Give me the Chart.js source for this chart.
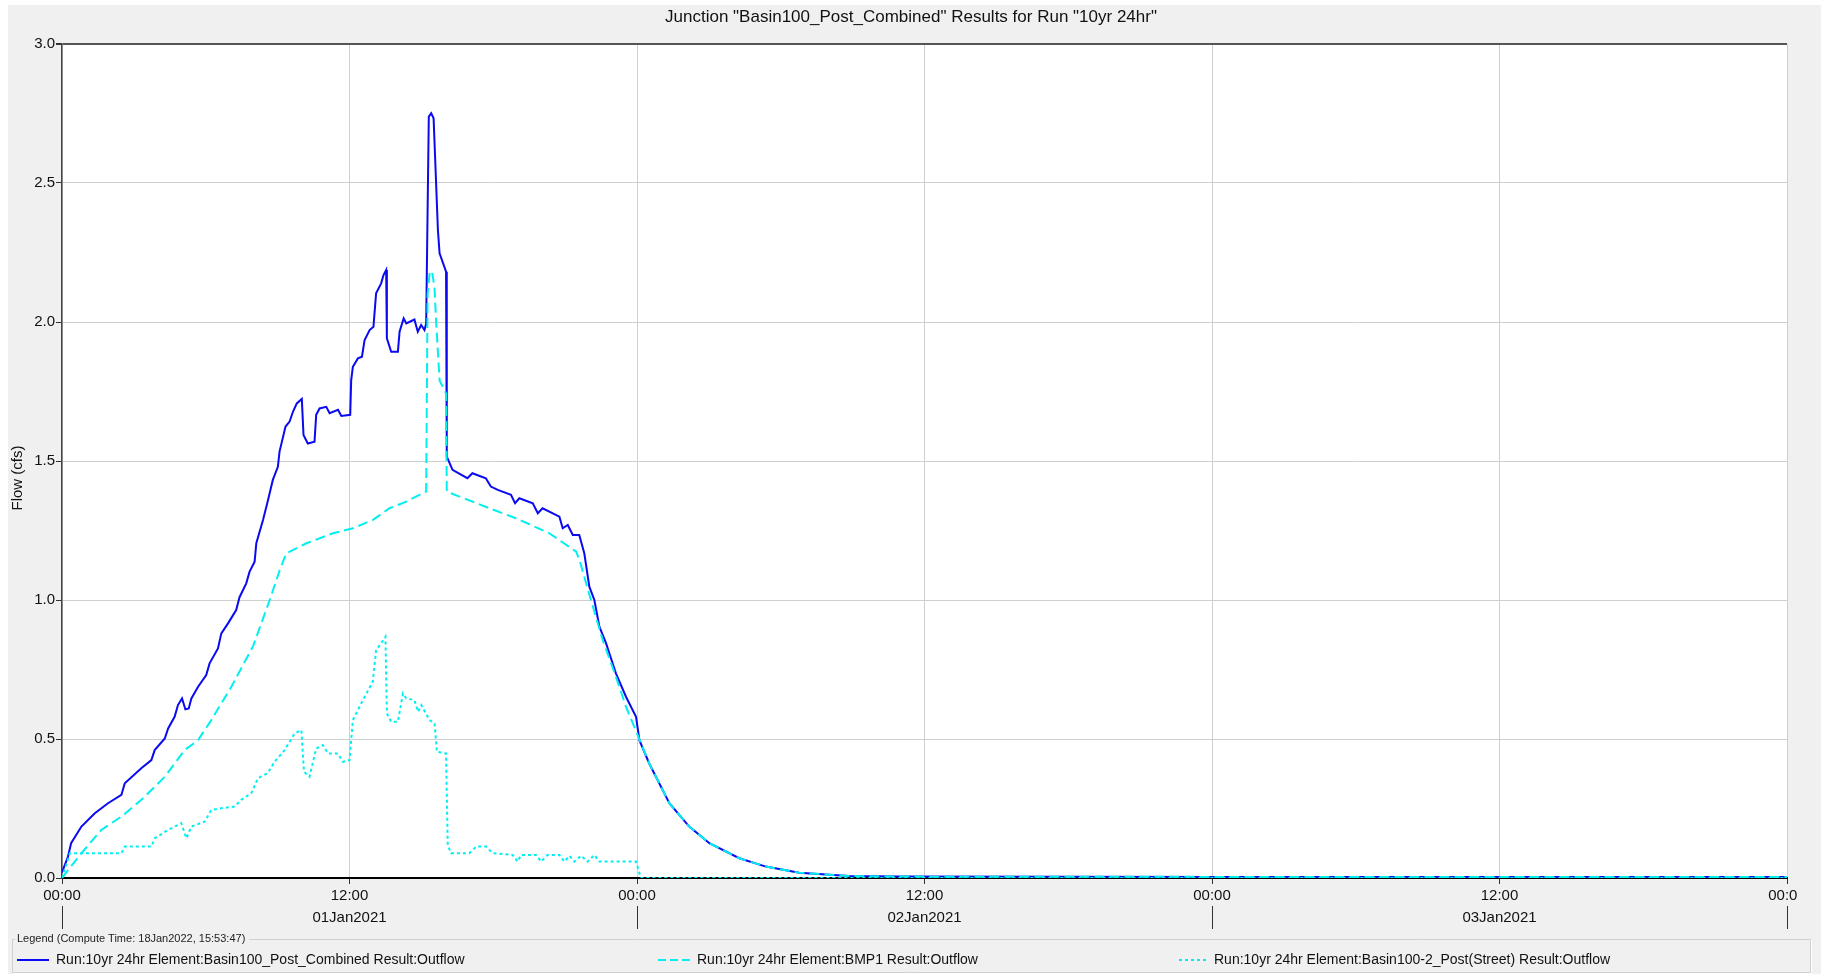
<!DOCTYPE html>
<html>
<head>
<meta charset="utf-8">
<title>Junction Basin100_Post_Combined</title>
<script src="https://cdn.jsdelivr.net/npm/chart.js@4/dist/chart.umd.min.js"></script>
<style>
  html, body { margin: 0; padding: 0; background: #fff; }
  canvas { display: block; }
</style>
</head>
<body>
<canvas id="grafico" width="1821" height="974"></canvas>
<script>
// ======= Dados (horas desde 01Jan2021 00:00, vazao em cfs) =======
const combHours = [0, 0.25, 0.38, 0.81, 1.37, 1.92, 2.48, 2.62, 3.31, 3.73, 3.87, 4.29, 4.43, 4.70, 4.84, 5.01, 5.15, 5.29, 5.40, 5.68,
  6.02, 6.16, 6.51, 6.65, 6.93, 7.27, 7.41, 7.69, 7.83, 8.04, 8.11, 8.39, 8.60, 8.80, 9.01, 9.08, 9.33, 9.50, 9.64, 9.80,
  10.01, 10.08, 10.26, 10.54, 10.61, 10.75, 11.03, 11.17, 11.52, 11.66, 12.03, 12.07, 12.14, 12.35, 12.52, 12.63, 12.84, 13.00, 13.11, 13.32,
  13.42, 13.53, 13.56, 13.74, 14.02, 14.09, 14.26, 14.37, 14.71, 14.85, 14.99, 15.13, 15.20, 15.31, 15.41, 15.51, 15.69, 15.76, 16.03, 16.06,
  16.30, 16.92, 17.13, 17.69, 17.90, 18.19, 18.74, 18.91, 19.09, 19.65, 19.86, 20.06, 20.76, 20.90, 21.11, 21.32, 21.59, 21.80, 22.01, 22.22,
  22.43, 22.71, 23.12, 23.54, 23.96, 24.10, 24.51, 25.35, 26.18, 27.02, 28.27, 29.38, 30.77, 32.85, 35, 48, 60, 72];
const combFlow = [0.02, 0.077, 0.125, 0.185, 0.233, 0.269, 0.299, 0.341, 0.395, 0.424, 0.460, 0.502, 0.538, 0.580, 0.622, 0.646, 0.607, 0.610, 0.646, 0.688,
  0.730, 0.772, 0.826, 0.880, 0.916, 0.964, 1.010, 1.060, 1.102, 1.138, 1.204, 1.288, 1.360, 1.432, 1.479, 1.534, 1.624, 1.642, 1.677, 1.707,
  1.723, 1.594, 1.563, 1.569, 1.666, 1.689, 1.695, 1.672, 1.684, 1.662, 1.666, 1.790, 1.839, 1.869, 1.875, 1.935, 1.971, 1.983, 2.103, 2.139,
  2.169, 2.187, 1.941, 1.893, 1.893, 1.965, 2.013, 1.995, 2.009, 1.965, 1.989, 1.971, 1.995, 2.739, 2.751, 2.733, 2.331, 2.247, 2.181, 1.516,
  1.468, 1.438, 1.456, 1.438, 1.408, 1.396, 1.378, 1.348, 1.366, 1.348, 1.312, 1.330, 1.300, 1.258, 1.270, 1.234, 1.234, 1.168, 1.048, 1.000,
  0.904, 0.844, 0.736, 0.652, 0.580, 0.496, 0.412, 0.269, 0.185, 0.125, 0.071, 0.041, 0.019, 0.007, 0.005, 0.004, 0.004, 0.004];

const bmpHours = [0, 0.81, 1.64, 2.48, 3.31, 4.29, 5.12, 5.68, 6.23, 7.07, 7.98, 8.67, 9.09, 9.36, 10.20, 11.31, 12.14, 12.98, 13.67, 14.37,
  15.20, 15.26, 15.35, 15.45, 15.55, 15.62, 15.76, 16.03, 16.06, 17.84, 18.95, 20.34, 21.46, 21.60, 22.01, 22.57, 23.12, 23.54, 24.00, 24.51,
  25.35, 26.18, 27.02, 28.27, 29.38, 30.77, 32.85, 35, 48, 60, 72];
const bmpFlow = [0, 0.089, 0.173, 0.221, 0.281, 0.364, 0.460, 0.496, 0.568, 0.688, 0.835, 1.000, 1.108, 1.168, 1.204, 1.240, 1.258, 1.288, 1.330, 1.354,
  1.390, 2.100, 2.181, 2.181, 2.120, 1.995, 1.790, 1.743, 1.390, 1.330, 1.294, 1.240, 1.174, 1.144, 1.020, 0.856, 0.724, 0.616, 0.520, 0.412,
  0.269, 0.185, 0.125, 0.071, 0.041, 0.019, 0.007, 0.005, 0.004, 0.004, 0.004];

const streetHours = [0, 0.33, 2.48, 2.62, 3.73, 3.87, 4.43, 4.98, 5.19, 5.40, 5.96, 6.23, 6.65, 7.21, 7.48, 7.90, 8.18, 8.59, 8.87, 9.29,
  9.71, 9.99, 10.10, 10.33, 10.61, 10.89, 11.10, 11.52, 11.72, 12.00, 12.14, 12.56, 12.97, 13.11, 13.32, 13.50, 13.56, 13.74, 14.02, 14.23,
  14.37, 14.71, 14.86, 15.00, 15.34, 15.55, 15.65, 16.03, 16.10, 16.24, 17.00, 17.29, 17.70, 17.98, 18.81, 19.02, 19.16, 19.79, 20.00, 20.27,
  20.76, 20.97, 21.18, 21.39, 21.67, 21.94, 22.22, 22.43, 23.96, 24.16, 72];
const streetFlow = [0, 0.089, 0.089, 0.113, 0.113, 0.143, 0.173, 0.197, 0.143, 0.185, 0.203, 0.245, 0.251, 0.257, 0.281, 0.305, 0.359, 0.377, 0.418, 0.460,
  0.520, 0.532, 0.382, 0.364, 0.466, 0.478, 0.448, 0.448, 0.418, 0.424, 0.568, 0.640, 0.706, 0.820, 0.844, 0.868, 0.592, 0.562, 0.562, 0.664,
  0.646, 0.640, 0.598, 0.622, 0.568, 0.556, 0.454, 0.448, 0.119, 0.089, 0.089, 0.113, 0.113, 0.089, 0.083, 0.059, 0.083, 0.083, 0.059, 0.083,
  0.083, 0.059, 0.080, 0.059, 0.080, 0.059, 0.083, 0.059, 0.059, 0, 0];

const xTickLabels = ['00:00', '12:00', '00:00', '12:00', '00:00', '12:00', '00:00'];
const dayLabels = ['01Jan2021', '02Jan2021', '03Jan2021'];
const seriesNames = [
  'Run:10yr 24hr Element:Basin100_Post_Combined Result:Outflow',
  'Run:10yr 24hr Element:BMP1 Result:Outflow',
  'Run:10yr 24hr Element:Basin100-2_Post(Street) Result:Outflow'
];
const titulo = 'Junction "Basin100_Post_Combined" Results for Run "10yr 24hr"';
const legendaTitulo = 'Legend (Compute Time: 18Jan2022, 15:53:47)';

const FONTE = '"Liberation Sans", Arial, sans-serif';
const AZUL = '#0a0af0';
const CIANO = '#00f0f0';

const pontos = (hs, vs) => hs.map((h, i) => ({ x: h, y: vs[i] }));

// ======= Fundo, titulo, rotulos e legenda =======
const moldura = {
  id: 'moldura',
  beforeDraw(chart) {
    const ctx = chart.ctx;
    const a = chart.chartArea;
    ctx.save();
    ctx.fillStyle = '#f0f0f0';
    ctx.fillRect(8, 5, chart.width - 8, chart.height - 5);
    ctx.fillStyle = '#fff';
    ctx.fillRect(a.left, a.top, a.right - a.left, a.bottom - a.top);
    ctx.restore();
    // corta o ultimo rotulo do eixo x, como no original
    ctx.save();
    ctx.beginPath();
    ctx.rect(0, 0, 1797, chart.height);
    ctx.clip();
  },
  beforeDatasetsDraw(chart) {
    chart.ctx.restore();
  },
  afterDraw(chart) {
    const ctx = chart.ctx;
    const xs = chart.scales.x;
    ctx.save();
    ctx.fillStyle = '#111';
    ctx.textBaseline = 'middle';

    // titulo
    ctx.font = '17px ' + FONTE;
    ctx.textAlign = 'center';
    ctx.fillText(titulo, 911, 17);

    // rotulo do eixo y
    ctx.save();
    ctx.translate(18, 478);
    ctx.rotate(-Math.PI / 2);
    ctx.font = '15px ' + FONTE;
    ctx.fillText('Flow (cfs)', 0, 0);
    ctx.restore();

    // datas e separadores
    ctx.font = '15px ' + FONTE;
    dayLabels.forEach((d, i) => {
      ctx.fillText(d, xs.getPixelForValue(i * 24 + 12), 918);
    });
    ctx.strokeStyle = '#333';
    ctx.lineWidth = 1;
    for (let i = 0; i <= dayLabels.length; i++) {
      const px = Math.round(xs.getPixelForValue(i * 24)) + 0.5;
      ctx.beginPath();
      ctx.moveTo(px, 906);
      ctx.lineTo(px, 929);
      ctx.stroke();
    }

    // caixa da legenda
    ctx.font = '11px ' + FONTE;
    ctx.textAlign = 'left';
    const tw = ctx.measureText(legendaTitulo).width;
    ctx.strokeStyle = '#d0d0d0';
    ctx.beginPath();
    ctx.moveTo(15, 939.5);
    ctx.lineTo(12.5, 939.5);
    ctx.lineTo(12.5, 972.5);
    ctx.lineTo(1810.5, 972.5);
    ctx.lineTo(1810.5, 939.5);
    ctx.lineTo(19 + tw + 2, 939.5);
    ctx.stroke();
    ctx.strokeStyle = '#fff';
    ctx.beginPath();
    ctx.moveTo(13.5, 973.5);
    ctx.lineTo(1811.5, 973.5);
    ctx.moveTo(1811.5, 940.5);
    ctx.lineTo(1811.5, 973.5);
    ctx.stroke();
    ctx.fillStyle = '#222';
    ctx.fillText(legendaTitulo, 17, 939);

    const entradas = [
      { x: 17, w: 32, tx: 56, cor: AZUL, dash: [] },
      { x: 658, w: 33, tx: 697, cor: CIANO, dash: [8, 4] },
      { x: 1179, w: 29, tx: 1214, cor: CIANO, dash: [3, 3] }
    ];
    ctx.font = '14px ' + FONTE;
    entradas.forEach((e, i) => {
      ctx.strokeStyle = e.cor;
      ctx.lineWidth = 2;
      ctx.setLineDash(e.dash);
      ctx.beginPath();
      ctx.moveTo(e.x, 960);
      ctx.lineTo(e.x + e.w, 960);
      ctx.stroke();
      ctx.setLineDash([]);
      ctx.fillStyle = '#111';
      ctx.fillText(seriesNames[i], e.tx, 960);
    });
    ctx.restore();
  }
};

// ======= Grafico =======
new Chart(document.getElementById('grafico'), {
  type: 'line',
  data: {
    datasets: [
      { label: seriesNames[0], data: pontos(combHours, combFlow), borderColor: AZUL, borderWidth: 2, order: 3 },
      { label: seriesNames[1], data: pontos(bmpHours, bmpFlow), borderColor: CIANO, borderWidth: 2, borderDash: [10, 5], order: 2 },
      { label: seriesNames[2], data: pontos(streetHours, streetFlow), borderColor: CIANO, borderWidth: 2, borderDash: [3, 3], order: 1 }
    ]
  },
  options: {
    responsive: false,
    animation: false,
    devicePixelRatio: 1,
    layout: { padding: { top: 44, right: 34, bottom: 0, left: 0 } },
    elements: { point: { radius: 0 }, line: { tension: 0, fill: false } },
    plugins: { legend: { display: false }, tooltip: { enabled: false }, title: { display: false } },
    scales: {
      x: {
        type: 'linear', min: 0, max: 72,
        ticks: {
          stepSize: 12, autoSkip: false, maxRotation: 0, padding: 3, color: '#111',
          font: { family: FONTE, size: 15 },
          callback: (v, i) => xTickLabels[i]
        },
        grid: { color: '#cfcfcf', lineWidth: 1, tickLength: 6, tickColor: '#333' },
        border: { color: '#000', width: 2 },
        afterFit: s => { s.height = 96; }
      },
      y: {
        min: 0, max: 3,
        ticks: {
          stepSize: 0.5, padding: 1, color: '#111',
          font: { family: FONTE, size: 15 },
          callback: v => v.toFixed(1)
        },
        grid: {
          color: c => (c.tick && c.tick.value === 3 ? '#555' : '#cfcfcf'),
          lineWidth: c => (c.tick && c.tick.value === 3 ? 2 : 1),
          tickLength: 6, tickColor: '#333'
        },
        border: { color: '#444', width: 1.5 },
        afterFit: s => { s.width = 62; }
      }
    }
  },
  plugins: [moldura]
});
</script>
</body>
</html>
